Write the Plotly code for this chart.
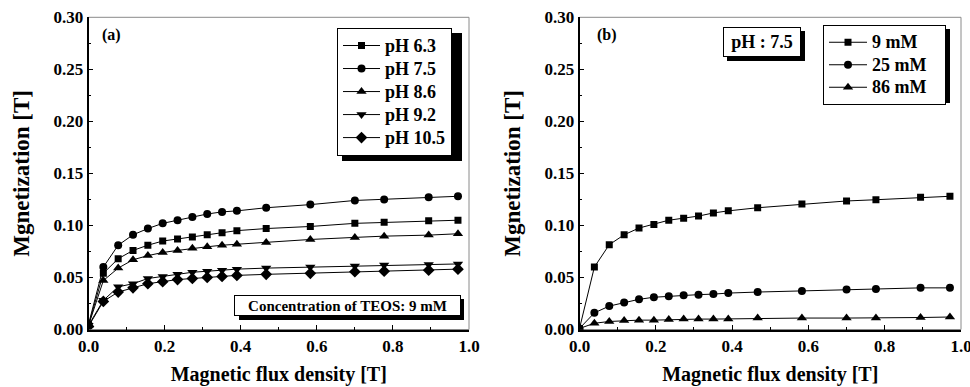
import plotly.graph_objects as go

# ---------------- data ----------------
field = [0.0, 0.039, 0.078, 0.117, 0.156, 0.195, 0.234, 0.273, 0.312, 0.351,
         0.390, 0.467, 0.583, 0.700, 0.777, 0.894, 0.971]

ph_labels = ["pH 6.3", "pH 7.5", "pH 8.6", "pH 9.2", "pH 10.5"]
ph63 = [0.004, 0.054, 0.068, 0.076, 0.081, 0.085, 0.087, 0.089, 0.091, 0.093,
        0.095, 0.097, 0.099, 0.102, 0.103, 0.1045, 0.105]
ph75 = [0.005, 0.060, 0.081, 0.091, 0.097, 0.102, 0.105, 0.108, 0.111, 0.113,
        0.114, 0.117, 0.120, 0.124, 0.125, 0.127, 0.128]
ph86 = [0.004, 0.047, 0.059, 0.067, 0.071, 0.074, 0.076, 0.078, 0.0795, 0.081,
        0.082, 0.0837, 0.0865, 0.0885, 0.0897, 0.0907, 0.092]
ph92 = [0.004, 0.028, 0.041, 0.044, 0.049, 0.051, 0.053, 0.055, 0.056, 0.057,
        0.058, 0.059, 0.060, 0.061, 0.062, 0.0625, 0.063]
ph105 = [0.003, 0.027, 0.036, 0.040, 0.044, 0.046, 0.048, 0.049, 0.050, 0.051,
         0.052, 0.053, 0.054, 0.0555, 0.056, 0.057, 0.058]

conc_labels = ["9 mM", "25 mM", "86 mM"]
c9 = [0.001, 0.060, 0.0815, 0.091, 0.0975, 0.101, 0.105, 0.107, 0.109, 0.112,
      0.114, 0.117, 0.1205, 0.1235, 0.1247, 0.127, 0.128]
c25 = [0.001, 0.016, 0.0225, 0.026, 0.029, 0.031, 0.032, 0.033, 0.0335, 0.034,
       0.035, 0.036, 0.037, 0.0385, 0.039, 0.040, 0.040]
c86 = [0.001, 0.006, 0.0077, 0.0086, 0.009, 0.009, 0.0095, 0.010, 0.010, 0.010,
       0.0102, 0.011, 0.011, 0.011, 0.011, 0.0115, 0.012]

ph_series = [ph63, ph75, ph86, ph92, ph105]
ph_symbols = ["square", "circle", "triangle-up", "triangle-down", "diamond"]
ph_sizes = [7, 8, 9, 9, 9]
conc_series = [c9, c25, c86]
conc_symbols = ["square", "circle", "triangle-up"]
conc_sizes = [7, 8, 9]

FONT = "Liberation Serif"
W, H = 970, 387

fig = go.Figure()

def legend_name(lab, pad):
    return f"<span style='font-size:18px'>{lab}{chr(160) * pad}</span>"

for lab, ys, sym, sz in zip(ph_labels, ph_series, ph_symbols, ph_sizes):
    fig.add_trace(go.Scatter(
        x=field, y=ys, mode="lines+markers", name=legend_name(lab, 0),
        line=dict(color="black", width=1),
        marker=dict(symbol=sym, size=sz, color="black"),
        xaxis="x", yaxis="y", legend="legend"))

for lab, ys, sym, sz in zip(conc_labels, conc_series, conc_symbols, conc_sizes):
    fig.add_trace(go.Scatter(
        x=field, y=ys, mode="lines+markers", name=legend_name(lab, 3),
        line=dict(color="black", width=1),
        marker=dict(symbol=sym, size=sz, color="black"),
        xaxis="x2", yaxis="y2", legend="legend2"))

def px(v):
    return v / W

def py(v):
    return 1 - v / H

tickfont = dict(family=FONT, size=17, color="black", weight="bold")
xtitlefont = dict(family=FONT, size=20, color="black", weight="bold")
ytitlefont = dict(family=FONT, size=23, color="black", weight="bold")

def xax(domain, anchor):
    return dict(domain=domain, anchor=anchor, range=[0, 1], dtick=0.2, tick0=0,
                tickformat=".1f", ticks="inside", ticklen=5, tickwidth=1.2,
                tickcolor="black", showline=True, linecolor="black", linewidth=1.5,
                showgrid=False, zeroline=False, tickfont=tickfont,
                ticklabeloverflow="allow",
                minor=dict(dtick=0.1, ticks="inside", ticklen=3, tickcolor="black"),
                title=dict(text="Magnetic flux density [T]", font=xtitlefont, standoff=12),
                automargin=False)

def yax(domain, anchor):
    return dict(domain=domain, anchor=anchor, range=[0, 0.30], dtick=0.05, tick0=0,
                tickformat=".2f", ticks="inside", ticklen=5, tickwidth=1.2,
                tickcolor="black", showline=True, linecolor="black", linewidth=1.5,
                showgrid=False, zeroline=False, tickfont=tickfont,
                ticklabeloverflow="allow",
                minor=dict(dtick=0.025, ticks="inside", ticklen=3, tickcolor="black"),
                title=dict(text="Mgnetization [T]", font=ytitlefont, standoff=18),
                automargin=False)

ydom = [py(329.5), py(17.3)]
fig.update_layout(
    width=W, height=H,
    margin=dict(l=0, r=0, t=0, b=0),
    paper_bgcolor="white", plot_bgcolor="white",
    xaxis=xax([px(88.5), px(469)], "y"),
    yaxis=yax(ydom, "x"),
    xaxis2=xax([px(579.5), px(961)], "y2"),
    yaxis2=yax(ydom, "x2"),
    legend=dict(x=px(337), y=py(28), xanchor="left", yanchor="top",
                bgcolor="white", bordercolor="black", borderwidth=1,
                font=dict(family=FONT, size=15.4, color="black", weight="bold"),
                itemwidth=37, tracegroupgap=0, itemsizing="trace"),
    legend2=dict(x=px(823), y=py(25), xanchor="left", yanchor="top",
                 bgcolor="white", bordercolor="black", borderwidth=1,
                 font=dict(family=FONT, size=15, color="black", weight="bold"),
                 itemwidth=38, tracegroupgap=0, itemsizing="trace"),
    showlegend=True,
)

shapes = []
for xr, yr in (("x domain", "y domain"), ("x2 domain", "y2 domain")):
    shapes.append(dict(type="rect", xref=xr, yref=yr, x0=0, x1=1, y0=0, y1=1,
                       line=dict(color="#8a8a8a", width=1), layer="below"))

def shadow(x0, y0, x1, y1, off=5):
    return dict(type="rect", xref="paper", yref="paper",
                x0=px(x0 + off), x1=px(x1 + off), y0=py(y1 + off), y1=py(y0 + off),
                fillcolor="black", line=dict(width=0), layer="above")

shapes.append(shadow(337, 28, 457, 156))      # legend a
shapes.append(shadow(823, 25, 946, 99, 4))    # legend b
shapes.append(shadow(235, 295, 460, 316, 4))  # TEOS box
shapes.append(shadow(723, 27, 801, 57, 4))    # pH box
fig.update_layout(shapes=shapes)

ann = [
    dict(text="(a)", x=px(100), y=py(35), xref="paper", yref="paper",
         xanchor="left", yanchor="middle", showarrow=False,
         font=dict(family=FONT, size=16, color="black", weight="bold")),
    dict(text="(b)", x=px(595), y=py(35), xref="paper", yref="paper",
         xanchor="left", yanchor="middle", showarrow=False,
         font=dict(family=FONT, size=16, color="black", weight="bold")),
    dict(text="Concentration of TEOS: 9 mM", x=px(347.5), y=py(305.5), xref="paper", yref="paper",
         xanchor="center", yanchor="middle", showarrow=False,
         bgcolor="white", bordercolor="black", borderwidth=1, width=223, height=17,
         font=dict(family=FONT, size=15, color="black", weight="bold")),
    dict(text="pH : 7.5", x=px(762), y=py(42), xref="paper", yref="paper",
         xanchor="center", yanchor="middle", showarrow=False,
         bgcolor="white", bordercolor="black", borderwidth=1, width=74, height=26,
         font=dict(family=FONT, size=18, color="black", weight="bold")),
]
fig.update_layout(annotations=ann)

fig.write_html("out.html")
